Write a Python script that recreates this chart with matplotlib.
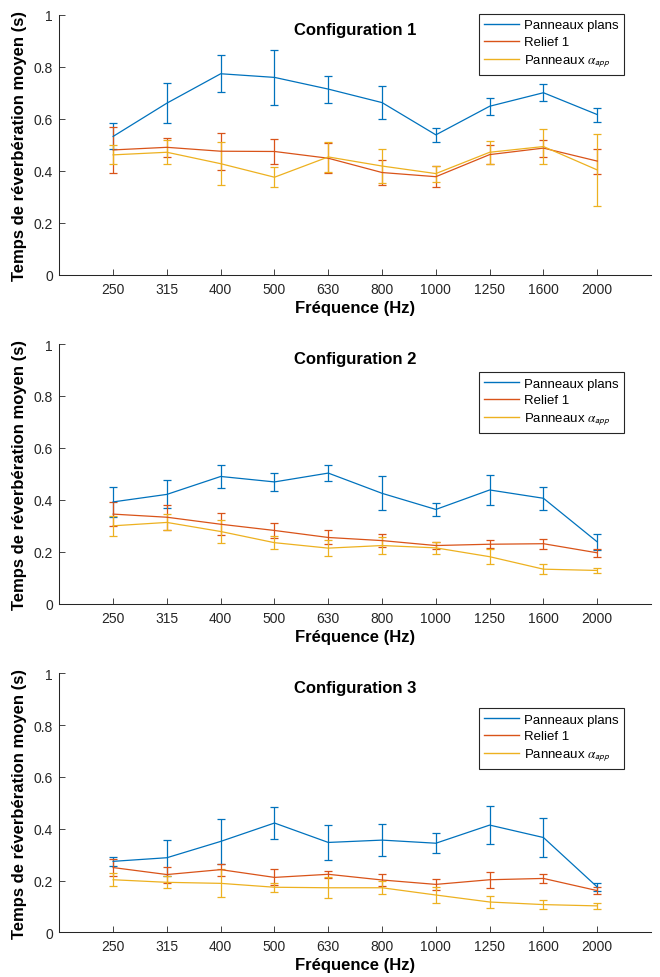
import numpy as np
import matplotlib
matplotlib.use("Agg")
import matplotlib.pyplot as plt
from matplotlib.lines import Line2D

plt.rcParams['font.family'] = ['Liberation Sans', 'DejaVu Sans']
plt.rcParams['mathtext.fontset'] = 'stix'

# third-octave bands (Hz)
freqs = ['250', '315', '400', '500', '630', '800', '1000', '1250', '1600', '2000']

# configuration 1 : mean reverberation time (s) and error half-width
c1_plans = [0.532, 0.660, 0.773, 0.759, 0.714, 0.662, 0.538, 0.648, 0.700, 0.616]
c1_plans_err = [0.050, 0.077, 0.072, 0.106, 0.052, 0.062, 0.026, 0.033, 0.032, 0.027]
c1_relief = [0.480, 0.490, 0.475, 0.474, 0.448, 0.393, 0.377, 0.462, 0.487, 0.437]
c1_relief_err = [0.090, 0.036, 0.072, 0.049, 0.058, 0.048, 0.041, 0.038, 0.033, 0.048]
c1_alpha = [0.461, 0.471, 0.427, 0.375, 0.453, 0.418, 0.389, 0.471, 0.493, 0.403]
c1_alpha_err = [0.037, 0.047, 0.083, 0.039, 0.059, 0.064, 0.031, 0.045, 0.067, 0.140]

# configuration 2
c2_plans = [0.392, 0.421, 0.490, 0.469, 0.503, 0.425, 0.363, 0.438, 0.406, 0.238]
c2_plans_err = [0.057, 0.054, 0.043, 0.034, 0.032, 0.066, 0.026, 0.056, 0.045, 0.030]
c2_relief = [0.345, 0.333, 0.306, 0.282, 0.255, 0.243, 0.224, 0.229, 0.231, 0.196]
c2_relief_err = [0.046, 0.048, 0.042, 0.029, 0.027, 0.024, 0.015, 0.016, 0.019, 0.015]
c2_alpha = [0.300, 0.313, 0.278, 0.235, 0.214, 0.224, 0.215, 0.181, 0.133, 0.128]
c2_alpha_err = [0.039, 0.031, 0.044, 0.025, 0.030, 0.031, 0.022, 0.030, 0.019, 0.010]

# configuration 3
c3_plans = [0.274, 0.288, 0.351, 0.422, 0.347, 0.356, 0.344, 0.414, 0.366, 0.175]
c3_plans_err = [0.018, 0.069, 0.088, 0.060, 0.067, 0.061, 0.039, 0.072, 0.077, 0.017]
c3_relief = [0.250, 0.223, 0.242, 0.212, 0.224, 0.202, 0.185, 0.203, 0.208, 0.161]
c3_relief_err = [0.032, 0.031, 0.023, 0.031, 0.014, 0.022, 0.022, 0.031, 0.019, 0.014]
c3_alpha = [0.203, 0.193, 0.189, 0.174, 0.172, 0.172, 0.144, 0.117, 0.107, 0.102]
c3_alpha_err = [0.025, 0.023, 0.054, 0.017, 0.040, 0.025, 0.031, 0.023, 0.016, 0.013]

titles = ['Configuration 1', 'Configuration 2', 'Configuration 3']
labels = ['Panneaux plans', 'Relief 1', r'Panneaux $\alpha_{\mathsf{app}}$']
colors = ['#0072BD', '#D95319', '#EDB120']

configs = [
    [(c1_plans, c1_plans_err), (c1_relief, c1_relief_err), (c1_alpha, c1_alpha_err)],
    [(c2_plans, c2_plans_err), (c2_relief, c2_relief_err), (c2_alpha, c2_alpha_err)],
    [(c3_plans, c3_plans_err), (c3_relief, c3_relief_err), (c3_alpha, c3_alpha_err)],
]

# axes boxes in figure fraction (left, bottom, width, height)
boxes = [
    (0.0899, 0.7181, 0.8965, 0.2658),
    (0.0899, 0.3817, 0.8965, 0.2655),
    (0.0899, 0.0457, 0.8965, 0.2648),
]
legend_tops = [1.003, 0.892, 0.866]

fig = plt.figure(figsize=(6.6, 9.78), dpi=100)
x = np.arange(1, len(freqs) + 1)

for k in range(3):
    ax = fig.add_axes(boxes[k])
    for (vals, err), col in zip(configs[k], colors):
        ax.errorbar(x, vals, yerr=err, color=col, lw=0.9, elinewidth=0.9,
                    capsize=2.6, capthick=0.9)

    ax.set_xlim(0, 11)
    ax.set_ylim(0, 1)
    ax.set_xticks(x)
    ax.set_xticklabels(freqs)
    ax.set_yticks([0, 0.2, 0.4, 0.6, 0.8, 1])
    ax.set_yticklabels(['0', '0.2', '0.4', '0.6', '0.8', '1'])
    ax.tick_params(direction='in', length=4, width=0.6, colors='#262626',
                   labelsize=10, labelcolor='#262626')
    ax.tick_params(axis='y', pad=4.5)
    ax.tick_params(axis='x', pad=5)
    for s in ['top', 'right']:
        ax.spines[s].set_visible(False)
    for s in ['left', 'bottom']:
        ax.spines[s].set_color('#262626')
        ax.spines[s].set_linewidth(0.75)

    ax.text(0.5, 0.945, titles[k], transform=ax.transAxes, ha='center', va='center',
            fontsize=12, fontweight='bold', color='black')
    ax.set_xlabel('Fréquence (Hz)', fontsize=12, fontweight='bold', labelpad=3)
    ax.set_ylabel('Temps de réverbération moyen (s)', fontsize=12, fontweight='bold', labelpad=5)

    # plain line handles like the original legend
    handles = [Line2D([], [], color=c, lw=1.0) for c in colors]
    leg = ax.legend(handles, labels, loc='upper right', bbox_to_anchor=(0.954, legend_tops[k]),
                    borderaxespad=0, fontsize=9.5, handlelength=2.6, handletextpad=0.4,
                    borderpad=0.4, labelspacing=0.35, fancybox=False,
                    framealpha=1, edgecolor='#262626')
    leg.get_frame().set_linewidth(0.8)

plt.savefig("out.png", dpi=100)
